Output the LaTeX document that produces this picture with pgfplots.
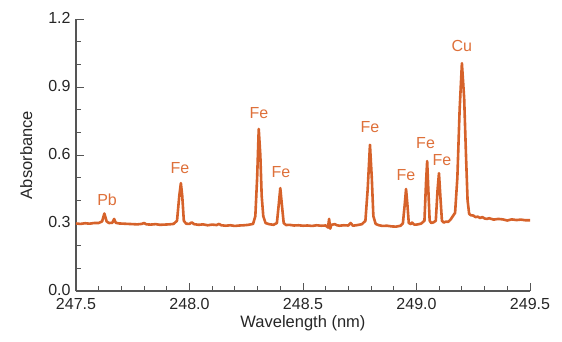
\documentclass[border=0pt]{standalone}
\usepackage{fontspec}
\setmainfont{Liberation Sans}
\usepackage{pgfplots}
\pgfplotsset{compat=1.18}
\definecolor{spec}{RGB}{214,98,42}
\definecolor{lab}{RGB}{222,112,58}
\definecolor{axgray}{RGB}{85,85,85}
\begin{document}
\begin{tikzpicture}
\begin{axis}[
  scale only axis, width=454pt, height=272pt,
  xmin=247.5, xmax=249.5, ymin=0, ymax=1.2,
  axis lines=left, axis line style={-, axgray, line width=1.2pt},
  xtick={247.5,248.0,248.5,249.0,249.5}, minor x tick num=4,
  ytick={0,0.3,0.6,0.9,1.2}, minor y tick num=2,
  tick align=inside,
  major tick length=8pt, minor tick length=5pt,
  every tick/.style={axgray, line width=1pt},
  /pgf/number format/assume math mode=true,
  /pgf/number format/fixed, /pgf/number format/fixed zerofill,
  /pgf/number format/precision=1, /pgf/number format/1000 sep={},
  ticklabel style={font=\fontsize{16}{18}\selectfont, text=black!85, inner sep=0.5pt},
  xticklabel style={yshift=-7pt},
  yticklabel style={yshift=1pt, xshift=-4.8pt},
  xlabel={Wavelength (nm)}, ylabel={Absorbance},
  label style={font=\fontsize{16.5}{19}\selectfont, text=black!85},
  ylabel style={yshift=12pt},
  xlabel style={yshift=-1pt},
  clip=false,
]
\addplot[spec, line width=2.6pt, line join=round] coordinates {
(247.50,0.298) (247.52,0.296) (247.54,0.299) (247.56,0.297) (247.58,0.300)
(247.60,0.300) (247.615,0.307) (247.625,0.342) (247.635,0.307) (247.645,0.300)
(247.66,0.301) (247.668,0.318) (247.675,0.301) (247.69,0.298) (247.71,0.297)
(247.73,0.296) (247.75,0.295) (247.77,0.294) (247.79,0.296) (247.80,0.300)
(247.81,0.294) (247.83,0.293) (247.85,0.295) (247.87,0.292) (247.89,0.293)
(247.91,0.294) (247.93,0.296) (247.945,0.310) (247.955,0.420) (247.962,0.476)
(247.968,0.420) (247.975,0.310) (247.985,0.297) (248.00,0.296) (248.01,0.303)
(248.02,0.295) (248.04,0.292) (248.06,0.294) (248.08,0.290) (248.10,0.293)
(248.12,0.291) (248.13,0.296) (248.14,0.290) (248.16,0.288) (248.18,0.290)
(248.20,0.287) (248.22,0.289) (248.24,0.290) (248.26,0.292) (248.28,0.296)
(248.290,0.330) (248.298,0.500) (248.305,0.715) (248.312,0.600) (248.318,0.420)
(248.325,0.330) (248.335,0.300) (248.35,0.295) (248.37,0.292) (248.385,0.300)
(248.393,0.380) (248.400,0.454) (248.407,0.380) (248.415,0.300) (248.425,0.291)
(248.44,0.292) (248.46,0.289) (248.48,0.290) (248.50,0.288) (248.52,0.289)
(248.54,0.287) (248.56,0.290) (248.58,0.288) (248.60,0.289) (248.61,0.280)
(248.615,0.318) (248.62,0.275) (248.625,0.292) (248.64,0.295) (248.65,0.290)
(248.66,0.288) (248.68,0.290) (248.70,0.289) (248.71,0.300) (248.72,0.288)
(248.74,0.291) (248.76,0.295) (248.775,0.310) (248.785,0.450) (248.795,0.645)
(248.803,0.500) (248.81,0.330) (248.82,0.296) (248.835,0.290) (248.85,0.287)
(248.87,0.288) (248.89,0.285) (248.91,0.284) (248.93,0.288) (248.94,0.298)
(248.948,0.380) (248.954,0.450) (248.960,0.380) (248.966,0.300) (248.975,0.295)
(248.98,0.302) (248.99,0.293) (249.00,0.293) (249.02,0.297) (249.035,0.310)
(249.042,0.480) (249.047,0.573) (249.052,0.450) (249.058,0.310) (249.065,0.300)
(249.075,0.303) (249.085,0.310) (249.093,0.450) (249.099,0.520) (249.105,0.420)
(249.112,0.310) (249.12,0.302) (249.13,0.306) (249.14,0.305) (249.15,0.315)
(249.16,0.330) (249.17,0.345) (249.18,0.500) (249.19,0.800) (249.20,1.005)
(249.21,0.850) (249.218,0.600) (249.225,0.400) (249.232,0.340) (249.24,0.334)
(249.25,0.333) (249.26,0.326) (249.27,0.328) (249.28,0.322) (249.29,0.326)
(249.30,0.320) (249.31,0.318) (249.32,0.321) (249.34,0.315) (249.36,0.318)
(249.38,0.316) (249.40,0.311) (249.42,0.316) (249.44,0.313) (249.46,0.315)
(249.48,0.312) (249.50,0.312)
};
\begin{scope}[every node/.style={text=lab, font=\fontsize{16}{18}\selectfont}]
\node at (axis cs:247.637,0.401) {Pb};
\node at (axis cs:247.958,0.542) {Fe};
\node at (axis cs:248.306,0.785) {Fe};
\node at (axis cs:248.403,0.525) {Fe};
\node at (axis cs:248.795,0.723) {Fe};
\node at (axis cs:248.954,0.512) {Fe};
\node at (axis cs:249.040,0.653) {Fe};
\node at (axis cs:249.112,0.578) {Fe};
\node at (axis cs:249.200,1.081) {Cu};
\end{scope}
\end{axis}
\path ([xshift=-76pt,yshift=-50pt]current axis.south west) rectangle ([xshift=32pt,yshift=19pt]current axis.north east);
\end{tikzpicture}
\end{document}
